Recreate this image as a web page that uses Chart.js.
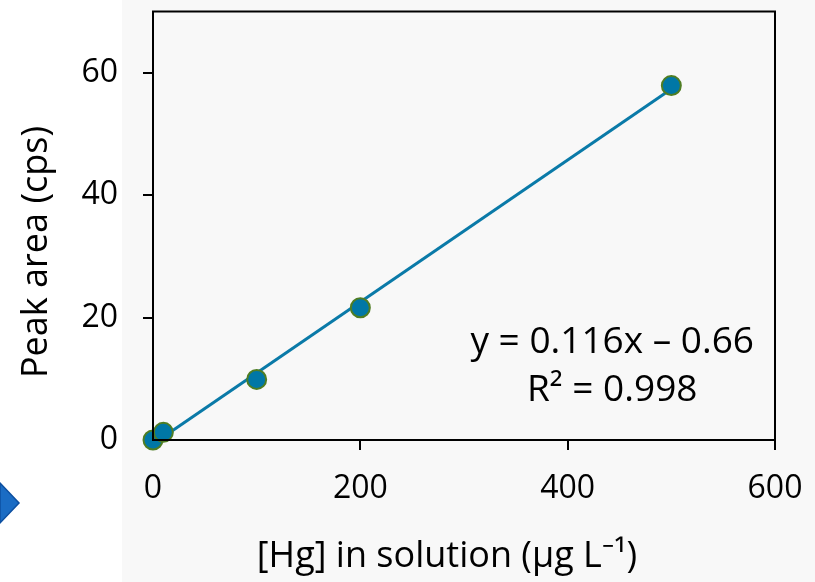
<!DOCTYPE html>
<html>
<head>
<meta charset="utf-8">
<script src="https://cdn.jsdelivr.net/npm/chart.js@4.4.0/dist/chart.umd.min.js"></script>
<style>
  html, body { margin: 0; padding: 0; background: #ffffff; }
  #wrap { width: 815px; height: 582px; position: relative; }
</style>
</head>
<body>
<div id="wrap"><canvas id="calChart"></canvas></div>
<script>
// ==================== DATA ====================
const hgConc = [0, 10, 100, 200, 500];          // [Hg] in solution (ug/L)
const peakArea = [0, 1.25, 9.9, 21.6, 57.9];    // peak area (cps)
const fitX = [0, 500];                          // trendline ends
const fitY = [-0.66, 57.34];
const xTicks = [0, 200, 400, 600];
const yTicks = [0, 20, 40, 60];
const xTitle = '[Hg] in solution (\u00b5g L\u207b\u00b9)';
const yTitle = 'Peak area (cps)';
const equationLines = ['y = 0.116x \u2013 0.66', 'R\u00b2 = 0.998'];

const FONT = "'Open Sans', 'Noto Sans', sans-serif";

// slide background + decorative arrow, drawn before the chart
const backdrop = {
    id: 'backdrop',
    beforeDraw(chart) {
        const ctx = chart.ctx;
        ctx.save();
        ctx.fillStyle = '#ffffff';
        ctx.fillRect(0, 0, chart.width, chart.height);
        ctx.fillStyle = '#f8f8f8';
        ctx.fillRect(122, 0, chart.width - 122, chart.height);
        // blue chevron at bottom left
        ctx.beginPath();
        ctx.moveTo(0, 483);
        ctx.lineTo(19, 503);
        ctx.lineTo(0, 523);
        ctx.closePath();
        ctx.fillStyle = '#1a6cc4';
        ctx.fill();
        ctx.strokeStyle = '#0d4fa0';
        ctx.lineWidth = 1.5;
        ctx.stroke();
        ctx.restore();
    }
};

// closed frame around the plot, axis titles and regression text
const frame = {
    id: 'frame',
    afterDatasetsDraw(chart) {
        const { ctx, chartArea: a, scales } = chart;
        ctx.save();
        ctx.strokeStyle = '#000000';
        ctx.lineWidth = 2;
        ctx.strokeRect(a.left, a.top, a.right - a.left, a.bottom - a.top);

        ctx.fillStyle = '#000000';
        ctx.textAlign = 'center';
        ctx.textBaseline = 'middle';

        // regression equation
        ctx.font = '37px ' + FONT;
        const cx = scales.x.getPixelForValue(443);
        ctx.fillText(equationLines[0], cx, scales.y.getPixelForValue(15.9));
        ctx.fillText(equationLines[1], cx, scales.y.getPixelForValue(8.1));

        // axis titles (sit a little off-centre in the original)
        ctx.font = '36px ' + FONT;
        ctx.fillText(xTitle, 447, 557);
        ctx.translate(37, 252);
        ctx.rotate(-Math.PI / 2);
        ctx.fillText(yTitle, 0, 0);
        ctx.restore();
    }
};

new Chart(document.getElementById('calChart').getContext('2d'), {
    type: 'scatter',
    data: {
        datasets: [
            {
                type: 'line',
                label: 'Fit',
                data: fitX.map((x, i) => ({ x: x, y: fitY[i] })),
                borderColor: '#0a7aa8',
                borderWidth: 3,
                pointRadius: 0,
                fill: false,
                clip: false,
                order: 2
            },
            {
                label: 'Peak area',
                data: hgConc.map((x, i) => ({ x: x, y: peakArea[i] })),
                backgroundColor: '#0077a6',
                borderColor: '#4f7d23',
                borderWidth: 2,
                pointRadius: 9.5,
                pointHoverRadius: 9.5,
                clip: false,
                order: 1
            }
        ]
    },
    options: {
        responsive: true,
        maintainAspectRatio: false,
        animation: false,
        layout: { padding: { left: 0, top: 9, right: 40, bottom: 0 } },
        plugins: {
            legend: { display: false },
            tooltip: { enabled: false }
        },
        scales: {
            x: {
                type: 'linear',
                min: 0,
                max: 600,
                afterBuildTicks: s => { s.ticks = xTicks.map(v => ({ value: v })); },
                afterFit: s => {
                    s.height = 142;
                    s.paddingLeft = 0;
                    s.paddingRight = 0;
                },
                grid: { drawOnChartArea: false, color: '#000000', tickLength: 10, lineWidth: 2 },
                border: { display: true, color: '#000000', width: 2 },
                ticks: { color: '#000000', font: { family: FONT, size: 32 }, padding: 20, maxRotation: 0 },
                title: { display: false }
            },
            y: {
                type: 'linear',
                min: 0,
                max: 70,
                afterBuildTicks: s => { s.ticks = yTicks.map(v => ({ value: v })); },
                afterFit: s => {
                    s.width = 153;
                    s.paddingTop = 0;
                    s.paddingBottom = 0;
                },
                grid: { drawOnChartArea: false, color: '#000000', tickLength: 10, lineWidth: 2 },
                border: { display: true, color: '#000000', width: 2 },
                ticks: { color: '#000000', font: { family: FONT, size: 32 }, padding: 25 },
                title: { display: false }
            }
        }
    },
    plugins: [backdrop, frame]
});
</script>
</body>
</html>
